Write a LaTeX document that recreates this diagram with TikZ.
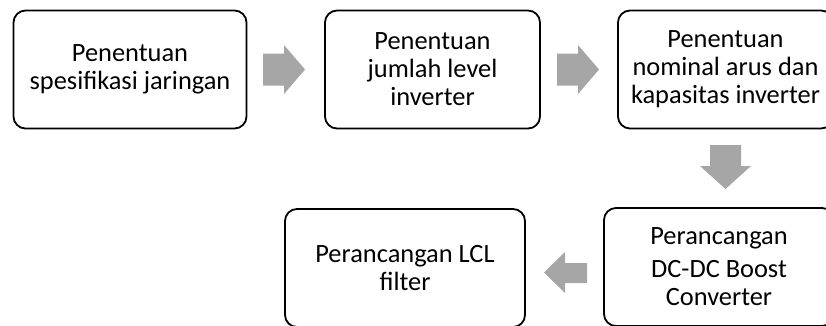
\documentclass[tikz,border=0pt]{standalone}
\usepackage{fontspec}
\setmainfont{Carlito}
\definecolor{arrowgray}{HTML}{A6A6A6}
\begin{document}
\begin{tikzpicture}[x=1pt,y=-1pt,
  box/.style={draw, line width=1.8pt, rounded corners=12pt, align=center,
    font=\fontsize{26.4}{28}\selectfont, inner sep=0pt, minimum height=118pt},
  blk/.style={fill=arrowgray, draw=none}]
\useasboundingbox (0,0) rectangle (826,325);
\clip (0,0) rectangle (826,325);
\node[box, minimum width=233pt] (b1) at (130,69.5) {Penentuan\\spesifikasi jaringan};
\node[box, minimum width=215pt] (b2) at (432.5,69.5) {Penentuan\\jumlah level\\inverter};
\node[box, minimum width=215pt] (b3) at (725.5,69.5) {Penentuan\\nominal arus dan\\kapasitas inverter};
\node[box, minimum width=230pt] (b4) at (719,267) {Perancangan\\[5pt]DC-DC Boost\\Converter};
\node[box, minimum width=240pt] (b5) at (405,268) {Perancangan LCL\\filter};
% block arrows
\fill[blk] (263,53.5) -- (284,53.5) -- (284,45) -- (305,69.5) -- (284,94) -- (284,85.5) -- (263,85.5) -- cycle;
\fill[blk] (557,53.5) -- (578,53.5) -- (578,45) -- (599,69.5) -- (578,94) -- (578,85.5) -- (557,85.5) -- cycle;
\fill[blk] (710,145) -- (741,145) -- (741,166) -- (751,166) -- (725.5,189) -- (700,166) -- (710,166) -- cycle;
\fill[blk] (587,263) -- (565,263) -- (565,252) -- (544,272.5) -- (565,293) -- (565,283) -- (587,283) -- cycle;
\end{tikzpicture}
\end{document}
